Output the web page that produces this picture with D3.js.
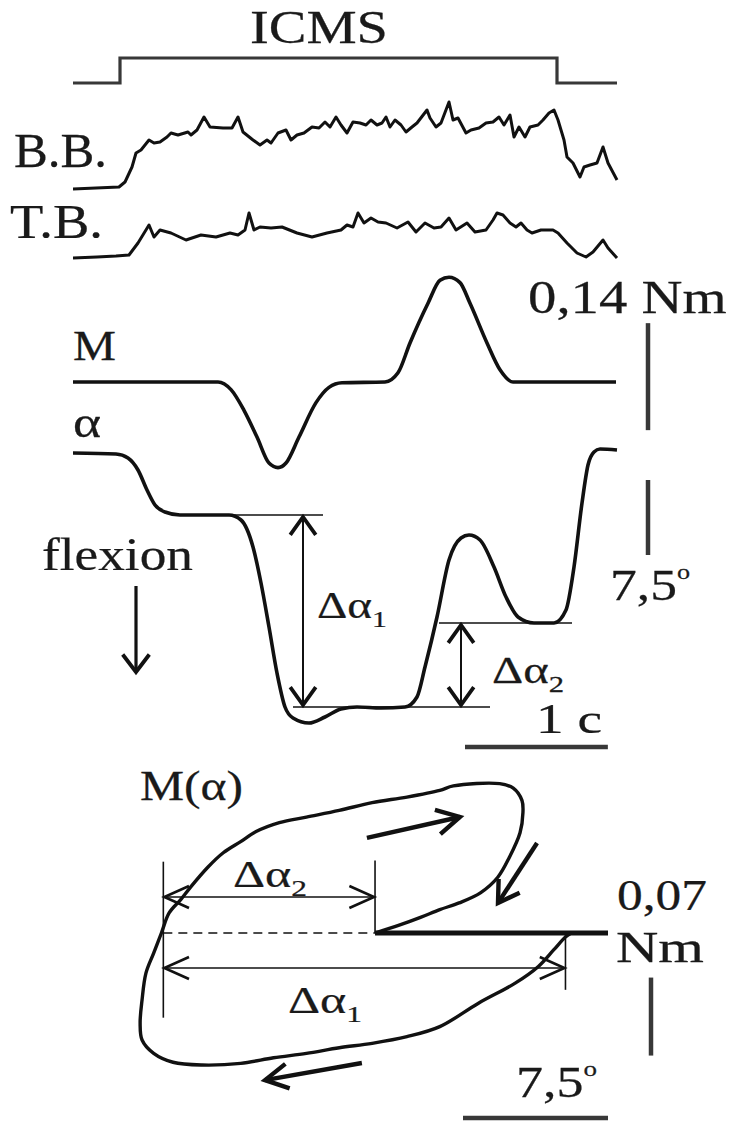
<!DOCTYPE html>
<html>
<head>
<meta charset="utf-8">
<script src="https://cdn.jsdelivr.net/npm/d3@7"></script>
<style>
  html, body { margin: 0; padding: 0; background: #fff; }
  svg { display: block; }
  text { font-family: "Liberation Serif", "Times New Roman", serif; fill: #1a1a1a; stroke: #1a1a1a; stroke-width: 0.25; }
</style>
</head>
<body>
<svg id="fig" width="731" height="1121"></svg>
<script>
// ---------- Recordings (time in ms from start of the sweep) ----------

// ICMS stimulation window: 0 = off, 1 = on
const stimTime  = [0, 329, 329, 3388, 3388, 3808];
const stimLevel = [0, 0, 1, 1, 0, 0];

// Biceps brachii (B.B.) rectified EMG, arbitrary units
const bbTime = [0,322,364,413,441,476,532,567,609,658,686,735,805,826,868,917,959,1050,1113,1155,1190,1260,1309,1358,1386,1435,1491,1526,1568,1617,1673,1722,1764,1799,1841,1876,1918,1960,2009,2051,2086,2128,2163,2191,2219,2254,2296,2331,2373,2408,2478,2499,2541,2576,2632,2660,2695,2751,2786,2842,2891,2940,2982,3017,3059,3087,3122,3164,3199,3255,3290,3332,3367,3395,3437,3458,3500,3549,3577,3619,3668,3710,3745,3808];
const bbAmp  = [0,0.2,0.7,2.2,3.6,3.9,4.9,4.6,4.7,5.2,5.6,5.4,5.7,5.4,5.9,7.2,6.2,6.1,6.1,7.2,5.7,4.9,4.4,4.9,4.6,5.6,5.9,4.9,5.4,5.6,6.2,6.1,6.7,6.2,7.2,6.4,5.6,6.7,6.6,6.4,6.9,6.4,6.6,7.2,6.2,6.9,6.4,5.7,6.2,6.6,7.9,7.1,6.2,6.6,8.7,6.9,7.1,5.6,5.9,6.1,6.6,6.7,7.2,6.4,7.4,5.2,6.2,5.2,6.2,6.4,6.9,7.6,7.9,6.9,4.9,3.2,2.6,1.2,2.2,2.4,2.6,4.2,2.6,0.9];

// Triceps brachii (T.B.) rectified EMG, arbitrary units
const tbTime = [0,168,301,392,455,532,567,609,686,791,896,1001,1099,1155,1204,1232,1267,1309,1386,1463,1568,1673,1778,1876,1918,1960,1995,2037,2086,2135,2191,2268,2345,2401,2464,2527,2576,2632,2681,2758,2814,2891,2940,2968,3010,3059,3101,3136,3178,3213,3276,3360,3395,3458,3528,3591,3640,3710,3745,3808];
const tbAmp  = [0,0.1,0.2,0.3,1.5,3.3,2.1,2.8,2.5,1.8,2.3,2.1,2.5,2.3,2.8,4.5,2.8,3.1,3.0,3.1,2.5,2.1,2.5,2.8,3.3,3.1,4.5,3.5,4.0,3.6,3.5,3.0,3.6,2.6,3.5,3.0,3.1,4.0,2.8,3.5,2.6,2.8,3.8,4.5,4.3,3.5,3.1,3.5,2.8,2.5,2.8,2.8,2.5,1.5,0.5,0.1,0.6,1.8,1.0,0];

// Joint torque M, mNm
const mTime   = [0,1015,1106,1197,1288,1372,1435,1491,1582,1701,1792,1883,2184,2275,2359,2485,2569,2632,2709,2779,2898,2989,3080,3801];
const mTorque = [0,0,-10,-37,-72,-106,-112,-106,-72,-27,-7,-1,0,12,51,103,133,137,130,103,51,16,0,0];

// Elbow angle alpha, degrees relative to the starting position (flexion negative)
const aTime  = [0,301,385,455,518,574,644,749,1092,1176,1260,1316,1372,1428,1484,1540,1652,1764,1876,1988,2156,2324,2408,2464,2548,2632,2716,2772,2849,2947,3031,3115,3227,3367,3451,3507,3563,3605,3647,3689,3808];
const aAngle = [0,-0.1,-0.5,-1.7,-3.7,-5.2,-5.9,-6.2,-6.2,-6.7,-9.4,-13.0,-17.4,-22.0,-25.4,-26.5,-27.0,-26.4,-25.6,-25.4,-25.5,-25.4,-24.4,-21.4,-16.4,-10.7,-8.5,-8.2,-8.7,-11.4,-14.4,-16.4,-17.0,-17.0,-15.7,-11.4,-5.0,-1.2,0.1,0.4,0.3];

// Torque-angle loop M(alpha): angle in degrees, torque in mNm
const loopAngle  = [-1.9,-2.2,-2.8,-3.6,-4.8,-6.7,-8.7,-10.4,-12.2,-13.9,-15.6,-17.3,-19.0,-21.0,-22.5,-23.5,-24.1,-24.2,-24.1,-23.9,-23.5,-23.1,-22.7,-22.1,-21.6,-20.7,-19.9,-19.0,-18.2,-17.0,-15.6,-13.9,-12.2,-10.4,-8.7,-8.0,-5.6,-4.9,-4.45,-4.4,-4.55,-5.1,-5.7,-6.6,-7.7,-8.7,-9.7,-10.8,-12.05];
const loopTorque = [0,-3.6,-15,-30,-45,-63,-84,-93,-99,-103,-108,-112,-117,-118.5,-116,-108,-96,-81,-60,-36,-18,0,18,30,41,59,72,82,91,99,104,110,117,122,128,132,134,130,119,108,90,68,50,36,27,21,14,7,0];

// Amplitude markers
const dA1 = [-6.2, -25.4];   // delta alpha 1 levels, degrees
const dA2 = [-17.0, -25.4];  // delta alpha 2 levels, degrees
const loopStart = -12.05;    // loop angle where the torque returns to zero
const loopLeft = -23.0;      // most flexed zero-torque angle
const loopRight = -2.2;      // zero-torque angle on the way back

// Calibration bars
const barTime = 1000;   // ms
const barTorque = 140;  // mNm
const barAngle = 7.5;   // deg
const loopBarTorque = 70;
const loopBarAngle = 7.5;

// ---------- Scales ----------
const x     = d3.scaleLinear().domain([0, 3808]).range([73, 617]);
const yStim = d3.scaleLinear().domain([0, 1]).range([83, 58]);
const yBB   = d3.scaleLinear().domain([0, 10]).range([189, 89]);
const yTB   = d3.scaleLinear().domain([0, 10]).range([258, 158]);
const yM    = d3.scaleLinear().domain([0, barTorque]).range([382, 275]);
const yA    = d3.scaleLinear().domain([0, -barAngle]).range([453, 528]);
const xL    = d3.scaleLinear().domain([0, -loopBarAngle]).range([608, 463]);
const yL    = d3.scaleLinear().domain([0, loopBarTorque]).range([933, 855]);

const svg = d3.select("#fig");
const INK = "#111";
const BAR = "#383838";

function trace(t, v, ys, curve, w, color) {
  const pts = t.map((d, i) => [x(d), ys(v[i])]);
  svg.append("path")
    .attr("d", d3.line().curve(curve)(pts))
    .attr("fill", "none").attr("stroke", color || INK)
    .attr("stroke-width", w).attr("stroke-linejoin", "round").attr("stroke-linecap", "butt");
}

function seg(x1, y1, x2, y2, w, color, dash) {
  const l = svg.append("line").attr("x1", x1).attr("y1", y1).attr("x2", x2).attr("y2", y2)
    .attr("stroke", color || INK).attr("stroke-width", w);
  if (dash) l.attr("stroke-dasharray", dash);
  return l;
}

function head(x1, y1, x2, y2, len, ang, w) {
  const a = Math.atan2(y1 - y2, x1 - x2);
  const p = [[x2 + len * Math.cos(a + ang), y2 + len * Math.sin(a + ang)], [x2, y2],
             [x2 + len * Math.cos(a - ang), y2 + len * Math.sin(a - ang)]];
  svg.append("path").attr("d", d3.line()(p)).attr("fill", "none")
    .attr("stroke", INK).attr("stroke-width", w).attr("stroke-linejoin", "miter");
}

function arrow(x1, y1, x2, y2, w, len, ang, hw, both) {
  seg(x1, y1, x2, y2, w);
  head(x1, y1, x2, y2, len, ang, hw);
  if (both) head(x2, y2, x1, y1, len, ang, hw);
}

// text stretched to a given width, left aligned at x, baseline y
function label(xp, yp, size, parts, width) {
  const t = svg.append("text").attr("font-size", size);
  parts.forEach(p => {
    const s = t.append("tspan").text(p.t);
    if (p.size) s.attr("font-size", p.size);
    if (p.dy) s.attr("dy", p.dy);
  });
  const w = t.node().getBBox().width;
  const sx = width ? width / w : 1;
  t.attr("transform", `translate(${xp},${yp}) scale(${sx},1)`);
  return t;
}

// ---------- ICMS marker and EMG ----------
label(250, 43, 46, [{t: "ICMS"}], 138);
svg.append("path")
  .attr("d", d3.line()(stimTime.map((d, i) => [x(d), yStim(stimLevel[i])])))
  .attr("fill", "none").attr("stroke", BAR).attr("stroke-width", 3.2);

label(14, 167, 48, [{t: "B.B."}], 93);
label(10, 238, 48, [{t: "T.B."}], 93);
trace(bbTime, bbAmp, yBB, d3.curveLinear, 3);
trace(tbTime, tbAmp, yTB, d3.curveLinear, 3);

// ---------- Torque and angle ----------
label(73, 360, 42, [{t: "M"}], 43);
label(73, 437, 44, [{t: "α"}], 28);
trace(mTime, mTorque, yM, d3.curveMonotoneX, 3.6);
trace(aTime, aAngle, yA, d3.curveMonotoneX, 3.6);

// amplitude markers on the angle trace
seg(x(1085), yA(dA1[0]), x(1750), yA(dA1[0]), 1.6);
seg(x(1540), yA(dA1[1]), x(2919), yA(dA1[1]), 1.6);
seg(x(2562), yA(dA2[0]), x(3493), yA(dA2[0]), 1.6);
arrow(x(1610), yA(dA1[0]) + 2, x(1610), yA(dA1[1]) - 2, 2, 22, 0.62, 3.8, true);
arrow(x(2716), yA(dA2[0]) + 2, x(2716), yA(dA2[1]) - 2, 2, 22, 0.62, 3.8, true);
label(317, 618, 38, [{t: "Δα"}, {t: "1", size: 24, dy: 9}], 70);
label(492, 683, 38, [{t: "Δα"}, {t: "2", size: 24, dy: 9}], 72);

// flexion direction
label(42, 570, 46, [{t: "flexion"}], 151);
arrow(136, 586, 136, 672, 3.2, 22, 0.65, 3.8, false);

// calibration bars
label(528, 313, 46, [{t: "0,14 Nm"}], 199);
seg(648, yM(77), 648, yM(77 - barTorque), 4.5, BAR);
seg(648, yA(-2.7), 648, yA(-2.7 - barAngle), 4.5, BAR);
label(610, 600, 45, [{t: "7,5"}, {t: "o", size: 22, dy: -21}], 80);
seg(x(3744 - barTime), 747, x(3744), 747, 4.5, BAR);
label(536, 733, 42, [{t: "1 c"}], 66);

// ---------- Torque-angle loop ----------
label(140, 800, 42, [{t: "M(α)"}], 103);

seg(xL(loopLeft), yL(0), xL(loopStart), yL(0), 1.6, INK, "9,6");
seg(xL(loopStart), yL(0), xL(0), yL(0), 4.8);

svg.append("path")
  .attr("d", d3.line().curve(d3.curveCatmullRom.alpha(0.5))(loopAngle.map((d, i) => [xL(d), yL(loopTorque[i])])))
  .attr("fill", "none").attr("stroke", INK).attr("stroke-width", 3.4).attr("stroke-linejoin", "round");

// delta alpha markers on the loop
seg(xL(loopLeft), yL(64), xL(loopLeft), yL(-76), 1.6);
seg(xL(loopStart), yL(65), xL(loopStart), yL(0), 1.6);
seg(xL(loopRight), yL(-2), xL(loopRight), yL(-51), 1.6);
arrow(xL(loopLeft) + 1, yL(32.3), xL(loopStart) - 1, yL(32.3), 1.6, 27, 0.42, 2.6, true);
arrow(xL(loopLeft) + 1, yL(-31.4), xL(loopRight) - 1, yL(-31.4), 1.6, 27, 0.42, 2.6, true);
label(233, 887, 38, [{t: "Δα"}, {t: "2", size: 24, dy: 9}], 74);
label(288, 1013, 38, [{t: "Δα"}, {t: "1", size: 24, dy: 9}], 74);

// direction of travel along the loop
arrow(xL(-12.47), yL(85.3), xL(-7.66), yL(104.1), 4.4, 26, 0.5, 4.4, false);
arrow(xL(-3.67), yL(80.8), xL(-5.69), yL(26.9), 4.4, 24, 0.55, 4.4, false);
arrow(xL(-12.73), yL(-116.7), xL(-17.74), yL(-132.0), 4.4, 26, 0.5, 4.4, false);

// loop calibration bars
label(617, 910, 44, [{t: "0,07"}], 90);
label(616, 962, 44, [{t: "Nm"}], 88);
seg(651, yL(-40), 651, yL(-40 - loopBarTorque), 4.5, BAR);
seg(xL(-loopBarAngle), 1118, xL(0), 1118, 4.5, BAR);
label(516, 1097, 44, [{t: "7,5"}, {t: "o", size: 22, dy: -21}], 81);
</script>
</body>
</html>
